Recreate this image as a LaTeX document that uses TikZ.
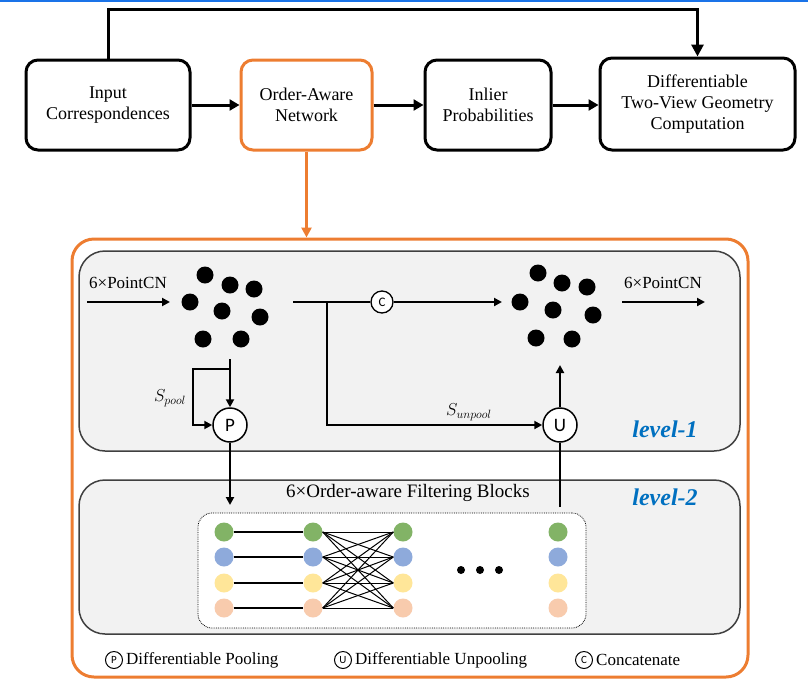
\documentclass[tikz,border=0pt]{standalone}
\usepackage{fontspec}
\setmainfont{Liberation Serif}
\newfontfamily\cfont{Carlito}
\usetikzlibrary{arrows.meta,calc}
\definecolor{oorange}{HTML}{ED7D31}
\definecolor{topblue}{HTML}{1A73E8}
\definecolor{lvlgray}{HTML}{F2F2F2}
\definecolor{lvlborder}{HTML}{404040}
\definecolor{lvlblue}{HTML}{0070C0}
\definecolor{cgreen}{HTML}{82B366}
\definecolor{cblue}{HTML}{8EAADB}
\definecolor{cyellow}{HTML}{FFE699}
\definecolor{csalmon}{HTML}{F8CBAD}
\tikzset{
  topbox/.style={draw, line width=3pt, rounded corners=12pt, align=center, fill=white,
    font=\fontsize{18}{21}\selectfont, inner sep=0pt},
  bigarr/.style={line width=3pt, -{Triangle[length=10pt,width=11pt]}},
  orarr/.style={line width=2.5pt, draw=oorange, -{Triangle[length=10pt,width=10pt]}},
  arr/.style={line width=2pt, -{Triangle[length=8pt,width=8pt]}},
  plain/.style={line width=2pt},
  lvlbox/.style={draw=lvlborder, line width=1.5pt, fill=lvlgray, rounded corners=26pt, inner sep=0pt},
  outerbox/.style={draw=oorange, line width=3pt, rounded corners=22pt, inner sep=0pt},
  opcirc/.style={circle, draw, line width=1.5pt, fill=white, minimum size=34pt, inner sep=0pt,
    font=\cfont\fontsize{19}{19}\selectfont},
  smallcirc/.style={circle, draw, line width=1.3pt, fill=white, minimum size=22pt, inner sep=0pt,
    font=\cfont\fontsize{13}{13}\selectfont},
  legcirc/.style={circle, draw, line width=1pt, minimum size=17pt, inner sep=0pt,
    font=\cfont\fontsize{11}{11}\selectfont},
  txt/.style={font=\fontsize{17}{20}\selectfont, inner sep=0pt},
  lvltxt/.style={font=\fontsize{24}{28}\selectfont\bfseries\itshape, text=lvlblue, inner sep=0pt},
  ghost/.style={inner sep=0pt, outer sep=0pt},
  feat/.style={circle, minimum size=19pt, inner sep=0pt},
  dot/.style={circle, fill=black, minimum size=17pt, inner sep=0pt},
}
\begin{document}
\begin{tikzpicture}[x=1pt,y=-1pt]
\useasboundingbox (0,0) rectangle (808,683);
\fill[topblue] (0,0) rectangle (808,1.5);

% top row
\node[topbox, minimum width=164pt, minimum height=90pt] (inp) at (108,105) {Input\\Correspondences};
\node[topbox, draw=oorange, minimum width=131pt, minimum height=90pt] (oan) at (306.5,105) {Order-Aware\\Network};
\node[topbox, minimum width=126pt, minimum height=90pt] (inl) at (488,105) {Inlier\\Probabilities};
\node[topbox, minimum width=195pt, minimum height=92pt] (geo) at (697.5,104) {Differentiable\\Two-View Geometry\\Computation};

\draw[bigarr] (inp.east) -- (inp.east -| oan.west);
\draw[bigarr] (oan.east) -- (oan.east -| inl.west);
\draw[bigarr] (inl.east) -- (inl.east -| geo.west);
\draw[bigarr, -{Triangle[length=12pt,width=12pt]}] (inp.north) -- ++(0,-49) -| (geo.north);

% outer orange box
\node[outerbox, minimum width=676pt, minimum height=438pt] (outer) at (410,458) {};
\draw[orarr] (oan.south) -- (oan.south |- outer.north);

% level boxes
\node[lvlbox, minimum width=661pt, minimum height=200pt] (lv1) at (409.5,351) {};
\node[lvlbox, minimum width=661pt, minimum height=154pt] (lv2) at (409.5,557) {};
\node[lvltxt] (l1lab) at (665,429) {level-1};
\node[lvltxt] (l2lab) at (665,497) {level-2};

% level-1 content
\node[ghost, minimum width=123pt, minimum height=106pt] (cl1) at (231.5,306) {};
\node[ghost, minimum width=120pt, minimum height=118pt] (cl2) at (562,306) {};
\foreach \x/\y [count=\i] in {205/275,230/285,254/289,190/302,222/311,260/317,203/339,241/339}
  \node[dot] (da\i) at (\x,\y) {};
\foreach \x/\y [count=\i] in {538/273,562/283,587/287,520/302,553/310,593/315,536/338,572/339}
  \node[dot] (db\i) at (\x,\y) {};

\coordinate (in1) at (87,302);
\coordinate (out1) at (705,302);
\draw[arr] (in1) -- (cl1.west |- in1);
\node[txt] (pcn1) at (128,283) {6\texttimes PointCN};
\draw[arr] (cl2.east |- out1) -- (out1);
\node[txt] (pcn2) at (663,283) {6\texttimes PointCN};

\node[smallcirc] (cc) at (382,302) {C};
\node[opcirc] (P) at (230,425) {P};
\node[opcirc] (U) at (560,425) {U};

\draw[plain] (cl1.east |- cc) -- (cc.west);
\draw[arr] (cc.east) -- (cl2.west |- cc);

\coordinate (br2) at (327,302);
\draw[arr] (br2) |- (U.west);
\node[txt] (sun) at (469,412) {$S_{unpool}$};

\coordinate (top1) at (230,359);
\coordinate (br1) at (230,369);
\draw[arr] (top1) -- (P.north);
\draw[arr] (br1) -- ++(-37,0) |- (P.west);
\node[txt] (spo) at (170,398) {$S_{pool}$};

\draw[arr] (U.north) -- (U |- cl2.south);

\coordinate (l2in) at (230,505);
\coordinate (l2out) at (560,507);
\draw[arr] (P.south) -- (l2in);
\draw[plain] (l2out) -- (U.south);

% level-2 content
\node[font=\fontsize{19}{22}\selectfont, inner sep=0pt] (ofb) at (408,493) {6\texttimes Order-aware Filtering Blocks};
\node[draw, densely dotted, line width=0.8pt, fill=white, rounded corners=14pt,
      minimum width=388pt, minimum height=115pt, inner sep=0pt] (blk) at (392,570.5) {};

\foreach \col/\x in {a/224,b/313,c/403,d/558}{
  \node[feat, fill=cgreen]  (\col1) at (\x,532) {};
  \node[feat, fill=cblue]   (\col2) at (\x,557) {};
  \node[feat, fill=cyellow] (\col3) at (\x,583) {};
  \node[feat, fill=csalmon] (\col4) at (\x,608) {};
}
\foreach \i in {1,...,4}{
  \draw[line width=1.2pt] (a\i) -- (b\i);
  \foreach \j in {1,...,4}
    \draw[line width=1pt] (b\i.east) -- (c\j.west);
}
\foreach \x [count=\i] in {461,480,499}
  \node[circle, fill=black, minimum size=8pt, inner sep=0pt] (el\i) at (\x,570) {};

% legend
\node[legcirc] (lp) at (114,660) {P};
\node[txt, anchor=west] (lpt) at (126,660) {Differentiable Pooling};
\node[legcirc] (lu) at (343,660) {U};
\node[txt, anchor=west] (lut) at (355,660) {Differentiable Unpooling};
\node[legcirc] (lc) at (584,660) {C};
\node[txt, anchor=west] (lct) at (596,660) {Concatenate};
\end{tikzpicture}
\end{document}
